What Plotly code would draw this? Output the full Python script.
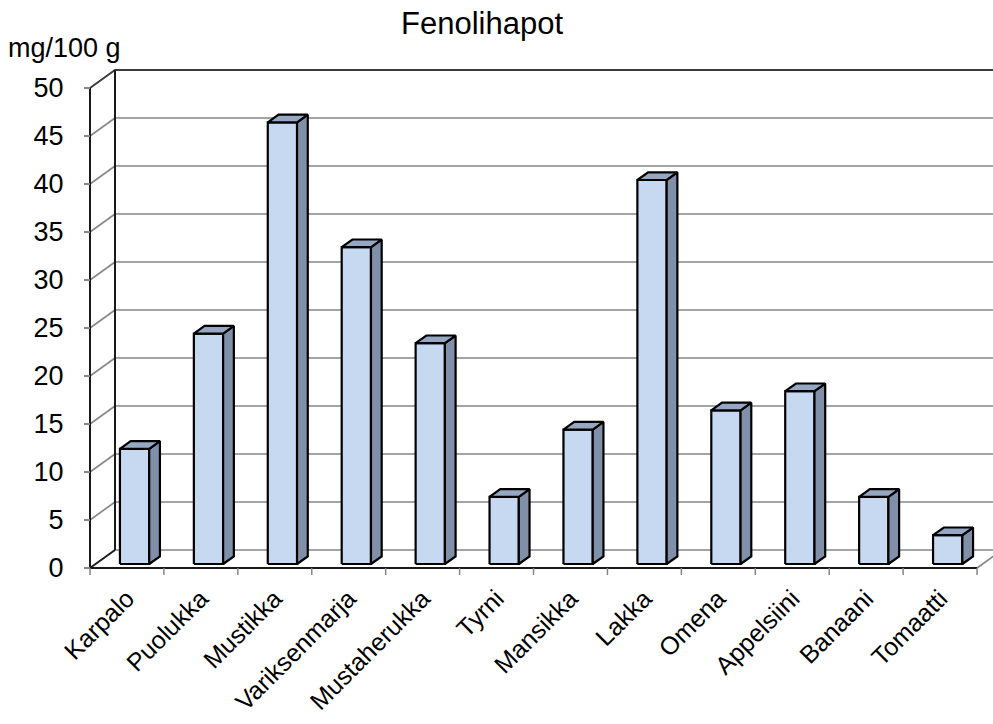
import plotly.graph_objects as go

# Phenolic acid content per fruit / berry (mg/100 g)
categories = ["Karpalo", "Puolukka", "Mustikka", "Variksenmarja", "Mustaherukka", "Tyrni",
              "Mansikka", "Lakka", "Omena", "Appelsiini", "Banaani", "Tomaatti"]
values = [12, 24, 46, 33, 23, 7, 14, 40, 16, 18, 7, 3]
y_ticks = [0, 5, 10, 15, 20, 25, 30, 35, 40, 45, 50]

W, H = 993, 724
FONT = "Liberation Sans, Arial, sans-serif"

# pixel scale of the projected 3D box
PX_X = 73.92          # pixels per category
PX_Y = 9.6            # pixels per unit on the value axis
DX = 25 / PX_X        # wall depth, horizontal
DY = 18 / PX_Y        # wall depth, vertical
Y_MAX = y_ticks[-1]

# plot area
M_L, M_T = 86, 67
X0 = -(90 - M_L) / PX_X
X1 = (W - 90) / PX_X
Y_TOP = Y_MAX + DY + 3 / PX_Y
Y_BOT = -7 / PX_Y
plot_h = (Y_TOP - Y_BOT) * PX_Y
M_B = H - M_T - plot_h

# bar geometry (in data units)
FACE_L, FACE_W = 0.405, 0.396
BASE = 0.417
SDX, SDY = 0.145, 0.80

FRONT = "#C6D9F1"
TOP = "#95A7C3"
SIDE = "#8190A9"
GRID = "#868686"

fig = go.Figure()


def seg_trace(xs, ys, color, width):
    fig.add_trace(go.Scatter(x=xs, y=ys, mode="lines", line=dict(color=color, width=width),
                             hoverinfo="skip", showlegend=False))


# back-wall gridlines and side-wall diagonals
gx, gy = [], []
for v in y_ticks[1:-1]:
    gx += [DX, X1 + 1, None, 0, DX, None]
    gy += [v + DY, v + DY, None, v, v + DY, None]
gx += [DX, X1 + 1, None, 12, 12 + DX, None]
gy += [DY, DY, None, 0, DY, None]
seg_trace(gx, gy, GRID, 1.6)

# top edge of the walls
seg_trace([0, DX, X1 + 1], [Y_MAX, Y_MAX + DY, Y_MAX + DY], "#3c3c3c", 2)

# axis frame: front axis, back-left edge, floor
seg_trace([0, 0, None, DX, DX, None, 0, DX, None, 0, 12],
          [0, Y_MAX, None, DY, Y_MAX + DY, None, 0, DY, None, 0, 0], "#1a1a1a", 2)

# category tick marks on the floor edge
tx, ty = [], []
for i in range(len(categories) + 1):
    tx += [i, i, None]
    ty += [0, Y_BOT, None]
seg_trace(tx, ty, GRID, 1.5)

# 3D bars: front face, side face, top face
for i, v in enumerate(values):
    l = i + FACE_L
    r = l + FACE_W
    t = BASE + v
    faces = [
        ([l, r, r, l, l], [BASE, BASE, t, t, BASE], FRONT),
        ([r, r + SDX, r + SDX, r, r], [BASE, BASE + SDY, t + SDY, t, BASE], SIDE),
        ([l, r, r + SDX, l + SDX, l], [t, t, t + SDY, t + SDY, t], TOP),
    ]
    for xs, ys, col in faces:
        fig.add_trace(go.Scatter(x=xs, y=ys, mode="lines", fill="toself", fillcolor=col,
                                 line=dict(color="#000000", width=2.2), hoverinfo="skip",
                                 showlegend=False))

fig.update_layout(
    width=W, height=H,
    margin=dict(l=M_L, r=0, t=M_T, b=M_B, pad=0, autoexpand=False),
    paper_bgcolor="white", plot_bgcolor="white",
    font=dict(family=FONT, size=25, color="black"),
    title=dict(text="Fenolihapot", x=482 / W, xanchor="center", y=1 - 23 / H, yanchor="middle",
               font=dict(family=FONT, size=31, color="black")),
    xaxis=dict(range=[X0, X1], showgrid=False, zeroline=False, showline=False, automargin=False,
               tickmode="array", tickvals=[i + 0.5 for i in range(len(categories))],
               ticktext=categories, tickangle=-45, ticks="", ticklabelstandoff=3,
               tickfont=dict(family=FONT, size=25, color="black")),
    yaxis=dict(range=[Y_BOT, Y_TOP], showgrid=False, zeroline=False, showline=False, automargin=False,
               tickmode="array", tickvals=y_ticks, ticks="outside", ticklen=6, tickwidth=1.5,
               tickcolor=GRID, anchor="free", position=(90 - M_L) / (W - M_L),
               ticklabelstandoff=15, tickfont=dict(family=FONT, size=27, color="black")),
    annotations=[dict(text="mg/100 g", xref="paper", yref="paper",
                      x=(6 - M_L) / (W - M_L), y=1 + (M_T - 48) / plot_h,
                      xanchor="left", yanchor="middle", showarrow=False,
                      font=dict(family=FONT, size=27, color="black"))],
)

fig.write_html("out.html")
